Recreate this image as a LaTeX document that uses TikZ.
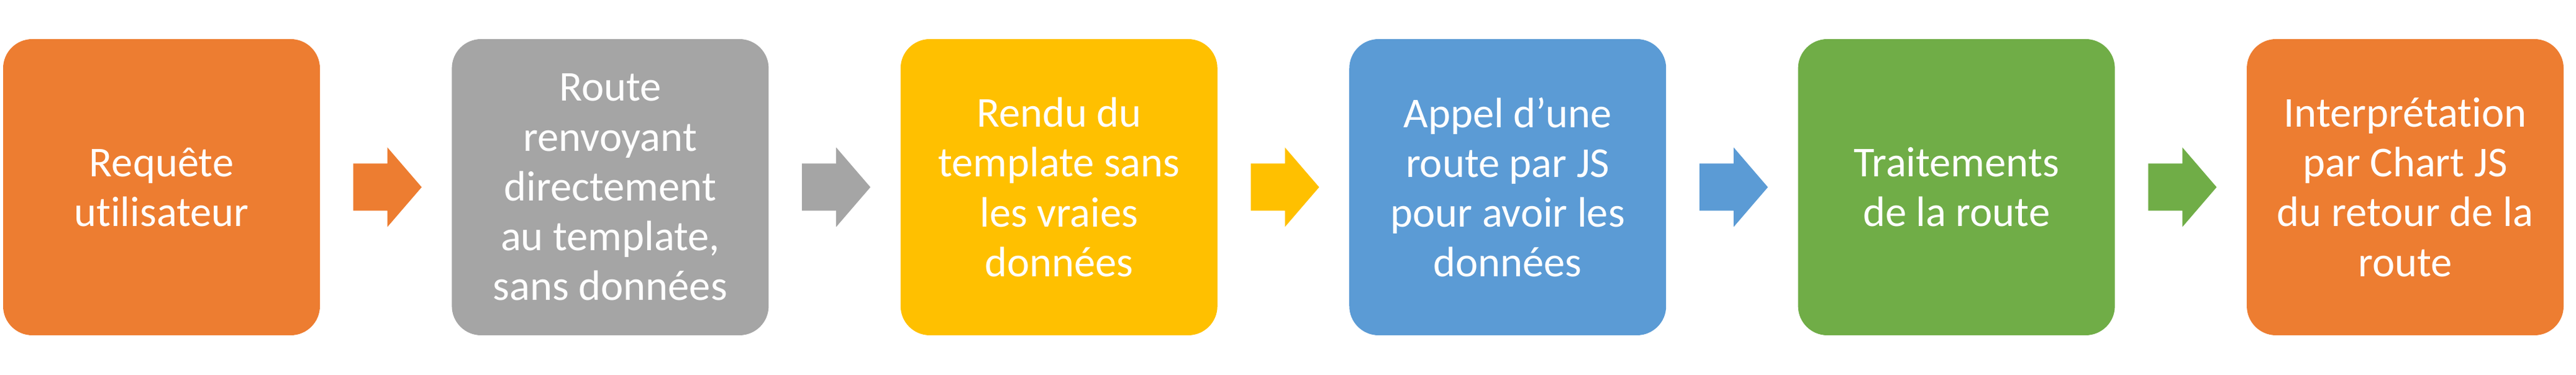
\documentclass[tikz,border=0pt]{standalone}
\usepackage{fontspec}
\setmainfont{Carlito}[Ligatures=NoCommon]
\usetikzlibrary{positioning,calc}

\definecolor{stepOrange}{HTML}{ED7D31}
\definecolor{stepGray}{HTML}{A5A5A5}
\definecolor{stepYellow}{HTML}{FFC000}
\definecolor{stepBlue}{HTML}{5B9BD5}
\definecolor{stepGreen}{HTML}{70AD47}

\tikzset{
	stage/.style={rectangle, rounded corners=0.47cm, minimum width=5.10cm, minimum height=4.77cm,
		inner sep=0pt, align=center, text=white, font=\fontsize{19.5}{22.8}\selectfont},
}

\begin{document}
\begin{tikzpicture}
			\useasboundingbox (0,0) rectangle (41.47,6.04);

			% stages
			\node[stage, fill=stepOrange] (s1) at (2.60,3.025) {Requête\\utilisateur};
			\node[stage, fill=stepGray, right=2.11cm of s1] (s2) {Route\\renvoyant\\directement\\au template,\\sans données};
			\node[stage, fill=stepYellow, right=2.11cm of s2] (s3) {Rendu du\\template sans\\les vraies\\données};
			\node[stage, fill=stepBlue, right=2.11cm of s3] (s4) {Appel d’une\\route par JS\\pour avoir les\\données};
			\node[stage, fill=stepGreen, right=2.11cm of s4] (s5) {Traitements\\de la route};
			\node[stage, fill=stepOrange, right=2.11cm of s5] (s6) {Interprétation\\par Chart JS\\du retour de la\\route};

			% arrows
			\foreach \from/\to/\col in {s1/s2/stepOrange, s2/s3/stepGray, s3/s4/stepYellow, s4/s5/stepBlue, s5/s6/stepGreen}
				\fill[\col] ($(\from.east)!0.251!(\to.west)+(0,0.38)$) -- ($(\from.east)!0.512!(\to.west)+(0,0.38)$)
					-- ($(\from.east)!0.512!(\to.west)+(0,0.64)$) -- ($(\from.east)!0.773!(\to.west)$)
					-- ($(\from.east)!0.512!(\to.west)+(0,-0.64)$) -- ($(\from.east)!0.512!(\to.west)+(0,-0.38)$)
					-- ($(\from.east)!0.251!(\to.west)+(0,-0.38)$) -- cycle;
		\end{tikzpicture}
\end{document}
